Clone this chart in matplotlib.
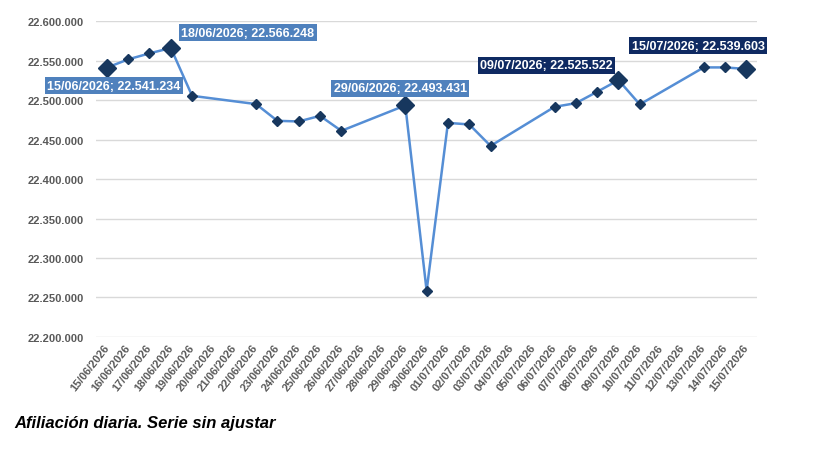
import numpy as np
import matplotlib
matplotlib.use("Agg")
import matplotlib.pyplot as plt
from matplotlib.ticker import FuncFormatter

# categories: every day from 15/06 to 15/07 (weekends have no value)
dates = ["15/06/2026", "16/06/2026", "17/06/2026", "18/06/2026", "19/06/2026",
         "20/06/2026", "21/06/2026", "22/06/2026", "23/06/2026", "24/06/2026",
         "25/06/2026", "26/06/2026", "27/06/2026", "28/06/2026", "29/06/2026",
         "30/06/2026", "01/07/2026", "02/07/2026", "03/07/2026", "04/07/2026",
         "05/07/2026", "06/07/2026", "07/07/2026", "08/07/2026", "09/07/2026",
         "10/07/2026", "11/07/2026", "12/07/2026", "13/07/2026", "14/07/2026",
         "15/07/2026"]
afiliados = [22541234, 22551800, 22559400, 22566248, 22505600,
             np.nan, np.nan, 22495100, 22473900, 22473100,
             22480200, 22461200, np.nan, np.nan, 22493431,
             22258600, 22471300, 22469300, 22442100, np.nan,
             np.nan, 22491600, 22496300, 22510700, 22525522,
             22494700, np.nan, np.nan, 22541600, 22541600,
             22539603]

# highlighted points: (date, label colour, label offset in pixels)
destacados = ["15/06/2026", "18/06/2026", "29/06/2026", "09/07/2026", "15/07/2026"]
color_etiqueta = ["#4F81BD", "#4F81BD", "#4F81BD", "#0F2A62", "#0F2A62"]
offset_etiqueta = [(7, -18), (77, 15), (-5, 17), (-72, 15), (-48, 23)]

x = np.arange(len(dates))
y = np.array(afiliados, dtype=float)
ok = ~np.isnan(y)

fig = plt.figure(figsize=(8.22, 4.56), dpi=100)
ax = fig.add_axes([0.117, 0.259, 0.804, 0.692])

ax.plot(x[ok], y[ok], color="#558ED5", lw=1.8, marker="D", markersize=5.5,
        markerfacecolor="#17375E", markeredgecolor="#17375E", zorder=3)

for d, c, off in zip(destacados, color_etiqueta, offset_etiqueta):
    i = dates.index(d)
    ax.plot(x[i], y[i], marker="D", markersize=9, color="#17375E", zorder=4)
    txt = f"{d}; {int(y[i]):,}".replace(",", ".")
    ax.annotate(txt, (x[i], y[i]), xytext=off, textcoords="offset pixels",
                ha="center", va="center", color="white", fontsize=9,
                fontweight="bold", family="Liberation Sans", zorder=5,
                bbox=dict(boxstyle="square,pad=0.2", fc=c, ec="none"))

ax.set_xlim(-0.5, len(dates) - 0.5)
ax.set_ylim(22200000, 22600000)
ax.set_yticks(np.arange(22200000, 22600001, 50000))
ax.yaxis.set_major_formatter(FuncFormatter(lambda v, p: f"{int(v):,}".replace(",", ".")))
ax.set_xticks(x)
ax.set_xticklabels(dates, rotation=52, ha="right", va="center", rotation_mode="anchor")

ax.grid(axis="y", color="#D9D9D9", lw=1)
ax.set_axisbelow(True)
for s in ax.spines.values():
    s.set_visible(False)
ax.tick_params(length=0, colors="#595959", labelsize=8)
ax.tick_params(axis="x", pad=6)
for lab in ax.get_xticklabels() + ax.get_yticklabels():
    lab.set_family("Liberation Sans")
    lab.set_fontweight("bold")
ax.tick_params(axis="y", pad=9)

fig.text(0.018, 0.061, "Afiliación diaria. Serie sin ajustar", fontsize=12,
         fontweight="bold", fontstyle="italic", family="Liberation Sans", color="black")

fig.savefig("out.png", dpi=100)
